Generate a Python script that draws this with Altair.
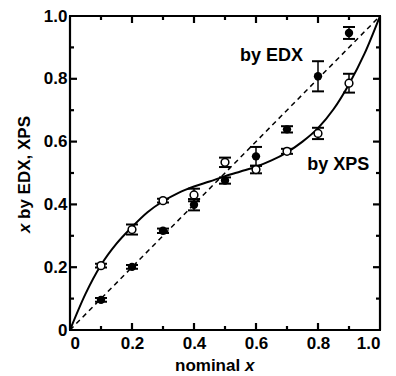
import altair as alt
import pandas as pd

nominal = [0.1, 0.2, 0.3, 0.4, 0.5, 0.6, 0.7, 0.8, 0.9]
edx = [0.096, 0.201, 0.316, 0.399, 0.476, 0.553, 0.639, 0.808, 0.946]
edx_err = [0.006, 0.006, 0.007, 0.018, 0.010, 0.030, 0.010, 0.048, 0.019]
xps = [0.205, 0.320, 0.412, 0.430, 0.534, 0.511, 0.569, 0.626, 0.786]
xps_err = [0.006, 0.016, 0.006, 0.020, 0.015, 0.012, 0.008, 0.018, 0.030]

fit_x = [0, 0.05, 0.1, 0.15, 0.2, 0.25, 0.3, 0.35, 0.4, 0.45, 0.5, 0.55, 0.6, 0.65, 0.7, 0.75, 0.8, 0.85, 0.9, 0.95, 1.0]
fit_y = [0, 0.115, 0.207, 0.275, 0.328, 0.375, 0.41, 0.437, 0.457, 0.473, 0.49, 0.505, 0.52, 0.54, 0.566, 0.6, 0.643, 0.703, 0.783, 0.88, 1.0]
diag_x = [0, 1]
diag_y = [0, 1]
major_ticks = [0.2, 0.4, 0.6, 0.8]
minor_ticks = [0.1, 0.3, 0.5, 0.7, 0.9]
label_vals = [0, 0.2, 0.4, 0.6, 0.8, 1.0]

W, H = 310, 314
FONT = "Liberation Sans"

pts = pd.DataFrame(
    [{"x": n, "y": v, "lo": v - e, "hi": v + e, "s": "EDX"} for n, v, e in zip(nominal, edx, edx_err)]
    + [{"x": n, "y": v, "lo": v - e, "hi": v + e, "s": "XPS"} for n, v, e in zip(nominal, xps, xps_err)]
)
fit = pd.DataFrame({"x": fit_x, "y": fit_y})
diag = pd.DataFrame({"x": diag_x, "y": diag_y})

# frame sides and inward ticks, in data units of the [0, 1] axes
segs = [(0, 0, 0, 1), (1, 1, 0, 1), (0, 1, 0, 0), (0, 1, 1, 1)]
for vals, px in ((major_ticks, 7), (minor_ticks, 4)):
    lx, ly = px / W, px / H
    for v in vals:
        segs += [(v, v, 0, ly), (v, v, 1 - ly, 1), (0, lx, v, v), (1 - lx, 1, v, v)]
frame = pd.DataFrame(segs, columns=["x1", "x2", "y1", "y2"])

xs = alt.Scale(domain=[0, 1], nice=False, zero=False)
ys = alt.Scale(domain=[0, 1], nice=False, zero=False)
lab = "datum.value == 0 ? '0' : format(datum.value, '.1f')"
label_style = dict(labelFont=FONT, labelFontWeight="bold", labelFontSize=17, labelColor="black")
xaxis = alt.Axis(title=None, values=label_vals, labelExpr=lab, ticks=False, domain=False, grid=False,
                 labelPadding=5, **label_style)
yaxis = alt.Axis(title=None, values=label_vals, labelExpr=lab, ticks=False, domain=False, grid=False,
                 labelPadding=3, **label_style)

X = alt.X("x:Q", scale=xs, axis=xaxis)
Y = alt.Y("y:Q", scale=ys, axis=yaxis)

frame_rules = alt.Chart(frame).mark_rule(color="#000000", strokeWidth=2.2, opacity=1).encode(
    x=alt.X("x1:Q", scale=xs, axis=xaxis), x2="x2:Q",
    y=alt.Y("y1:Q", scale=ys, axis=yaxis), y2="y2:Q")

diag_line = alt.Chart(diag).mark_line(color="black", strokeWidth=1.5, strokeDash=[5, 4]).encode(x=X, y=Y)
fit_line = alt.Chart(fit).mark_line(color="black", strokeWidth=2, interpolate="monotone").encode(x=X, y=Y)

err = alt.Chart(pts).mark_rule(color="black", strokeWidth=1.5, opacity=1).encode(
    x=X, y=alt.Y("lo:Q", scale=ys, axis=yaxis), y2="hi:Q")
cap_lo = alt.Chart(pts).mark_tick(color="black", orient="horizontal", size=12, thickness=2, opacity=1).encode(
    x=X, y=alt.Y("lo:Q", scale=ys, axis=yaxis))
cap_hi = alt.Chart(pts).mark_tick(color="black", orient="horizontal", size=12, thickness=2, opacity=1).encode(
    x=X, y=alt.Y("hi:Q", scale=ys, axis=yaxis))

edx_pts = alt.Chart(pts).transform_filter("datum.s == 'EDX'").mark_point(
    shape="circle", filled=True, size=70, color="black", opacity=1).encode(x=X, y=Y)
xps_pts = alt.Chart(pts).transform_filter("datum.s == 'XPS'").mark_point(
    shape="circle", filled=True, size=60, fill="white", stroke="black", strokeWidth=1.5, opacity=1).encode(x=X, y=Y)

labels = pd.DataFrame({"x": [0.65, 0.865], "y": [0.872, 0.527], "t": ["by EDX", "by XPS"]})
lbl = alt.Chart(labels).mark_text(font=FONT, fontWeight="bold", fontSize=18, color="black").encode(
    x=X, y=Y, text="t:N")

xt1 = alt.Chart(pd.DataFrame({"t": ["nominal"]})).mark_text(
    font=FONT, fontWeight="bold", fontSize=17, color="black", align="left", baseline="middle").encode(
    x=alt.value(105), y=alt.value(H + 36), text="t:N")
xt2 = alt.Chart(pd.DataFrame({"t": ["x"]})).mark_text(
    font=FONT, fontWeight="bold", fontStyle="italic", fontSize=17, color="black",
    align="left", baseline="middle").encode(
    x=alt.value(175), y=alt.value(H + 36), text="t:N")
yt1 = alt.Chart(pd.DataFrame({"t": ["x"]})).mark_text(
    font=FONT, fontWeight="bold", fontStyle="italic", fontSize=17, color="black",
    align="left", baseline="middle", angle=270).encode(
    x=alt.value(-45), y=alt.value(217), text="t:N")
yt2 = alt.Chart(pd.DataFrame({"t": ["by EDX, XPS"]})).mark_text(
    font=FONT, fontWeight="bold", fontSize=17, color="black",
    align="left", baseline="middle", angle=270).encode(
    x=alt.value(-45), y=alt.value(203), text="t:N")

chart = alt.layer(
    frame_rules, diag_line, fit_line, err, cap_lo, cap_hi, edx_pts, xps_pts,
    lbl, xt1, xt2, yt1, yt2
).properties(
    width=W, height=H,
    padding={"left": 16, "top": 7, "right": 3, "bottom": 3},
).configure_view(stroke="#000000", strokeWidth=2)

chart.save("out.html", embed_options={"renderer": "svg", "actions": False})
